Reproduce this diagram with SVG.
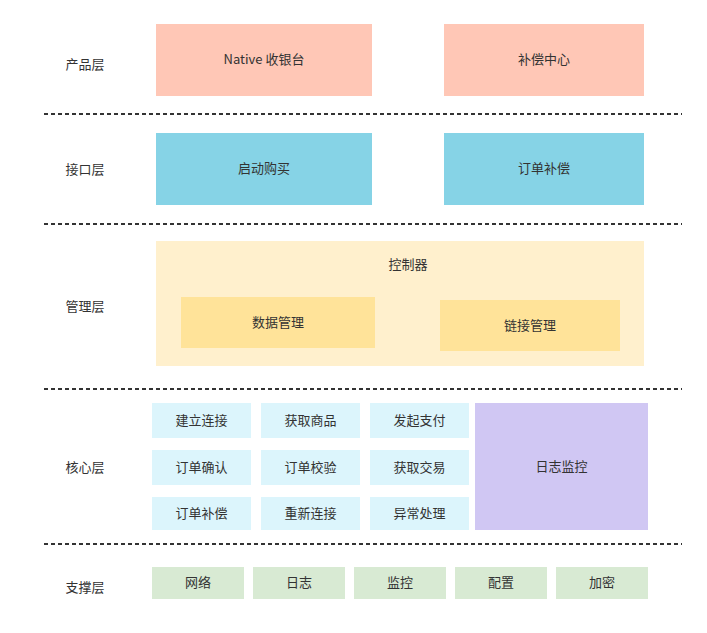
<svg xmlns="http://www.w3.org/2000/svg" width="707" height="633" viewBox="0 0 707 633">
<style>
text{font-family:"Noto Sans CJK SC","Noto Sans",sans-serif;font-size:13px;fill:#333;text-anchor:middle;dominant-baseline:central}
.sep{stroke:#333;stroke-width:2;stroke-dasharray:4 3;fill:none}
.prod{fill:#FFC7B6}
.intf{fill:#86D3E6}
.mgo{fill:#FFF0CD}
.mgi{fill:#FFE399}
.core{fill:#DCF5FC}
.log{fill:#D0C7F3}
.sup{fill:#D8EAD3}
</style>
<rect width="707" height="633" fill="#fff"/>
<g id="separators">
<line class="sep" x1="44" y1="114" x2="682" y2="114"/>
<line class="sep" x1="44" y1="224" x2="682" y2="224"/>
<line class="sep" x1="44" y1="389" x2="682" y2="389"/>
<line class="sep" x1="44" y1="544" x2="682" y2="544"/>
</g>
<g id="labels" transform="translate(0,-1.5)">
<text x="85" y="65">产品层</text>
<text x="85" y="170">接口层</text>
<text x="85" y="307">管理层</text>
<text x="85" y="468">核心层</text>
<text x="85" y="588">支撑层</text>
</g>
<g id="nodes" transform="translate(0,0)">
<g id="native"><rect class="prod" x="156" y="24" width="216" height="72"/><text x="264" y="58.5">Native 收银台</text></g>
<g id="comp-center"><rect class="prod" x="444" y="24" width="200" height="72"/><text x="544" y="58.5">补偿中心</text></g>
<g id="start-buy"><rect class="intf" x="156" y="133" width="216" height="72"/><text x="264" y="167.5">启动购买</text></g>
<g id="order-comp"><rect class="intf" x="444" y="133" width="200" height="72"/><text x="544" y="167.5">订单补偿</text></g>
<g id="controller"><rect class="mgo" x="156" y="241" width="488" height="125"/><text x="408" y="263.5">控制器</text></g>
<g id="data-mgmt"><rect class="mgi" x="181" y="297" width="194" height="51"/><text x="278" y="321.5">数据管理</text></g>
<g id="link-mgmt"><rect class="mgi" x="440" y="300" width="180" height="51"/><text x="530" y="324.5">链接管理</text></g>
<g id="c11"><rect class="core" x="152" y="403" width="99" height="35"/><text x="201.5" y="419.5">建立连接</text></g>
<g id="c12"><rect class="core" x="261" y="403" width="99" height="35"/><text x="310.5" y="419.5">获取商品</text></g>
<g id="c13"><rect class="core" x="370" y="403" width="99" height="35"/><text x="419.5" y="419.5">发起支付</text></g>
<g id="c21"><rect class="core" x="152" y="450" width="99" height="35"/><text x="201.5" y="466.5">订单确认</text></g>
<g id="c22"><rect class="core" x="261" y="450" width="99" height="35"/><text x="310.5" y="466.5">订单校验</text></g>
<g id="c23"><rect class="core" x="370" y="450" width="99" height="35"/><text x="419.5" y="466.5">获取交易</text></g>
<g id="c31"><rect class="core" x="152" y="497" width="99" height="33"/><text x="201.5" y="512.5">订单补偿</text></g>
<g id="c32"><rect class="core" x="261" y="497" width="99" height="33"/><text x="310.5" y="512.5">重新连接</text></g>
<g id="c33"><rect class="core" x="370" y="497" width="99" height="33"/><text x="419.5" y="512.5">异常处理</text></g>
<g id="log-mon"><rect class="log" x="475" y="403" width="173" height="127"/><text x="561.5" y="465.5">日志监控</text></g>
<g id="s1"><rect class="sup" x="152" y="567" width="92" height="32"/><text x="198" y="581.5">网络</text></g>
<g id="s2"><rect class="sup" x="253" y="567" width="92" height="32"/><text x="299" y="581.5">日志</text></g>
<g id="s3"><rect class="sup" x="354" y="567" width="92" height="32"/><text x="400" y="581.5">监控</text></g>
<g id="s4"><rect class="sup" x="455" y="567" width="92" height="32"/><text x="501" y="581.5">配置</text></g>
<g id="s5"><rect class="sup" x="556" y="567" width="92" height="32"/><text x="602" y="581.5">加密</text></g>
</g>
<g id="connectors"></g>
</svg>
